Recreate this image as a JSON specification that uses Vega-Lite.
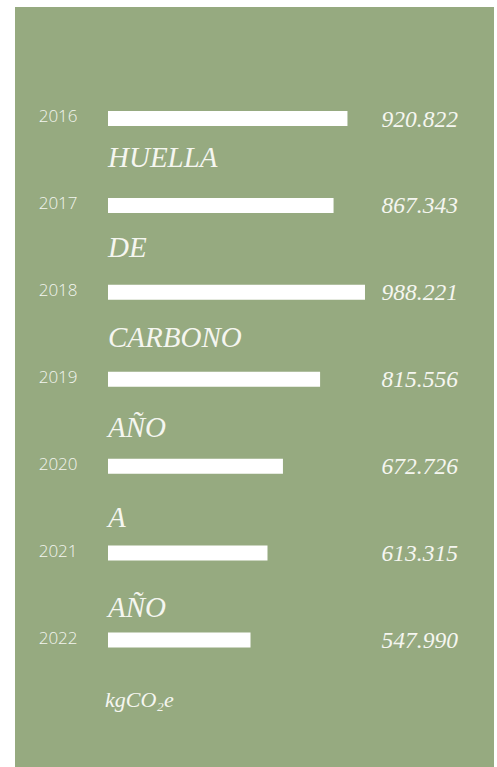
{
  "$schema": "https://vega.github.io/schema/vega-lite/v6.json",
  "width": 479,
  "height": 760,
  "autosize": {"type": "none"},
  "padding": {"left": 15, "top": 7, "right": 3, "bottom": 0},
  "background": "#ffffff",
  "config": {"view": {"fill": "#96aa80", "stroke": null}},
  "datasets": {
    "footprint": [
      {"year": "2016", "value": 920.822},
      {"year": "2017", "value": 867.343},
      {"year": "2018", "value": 988.221},
      {"year": "2019", "value": 815.556},
      {"year": "2020", "value": 672.726},
      {"year": "2021", "value": 613.315},
      {"year": "2022", "value": 547.990}
    ],
    "words": [
      {"line": 1, "word": "HUELLA", "kind": "word"},
      {"line": 2, "word": "DE", "kind": "word"},
      {"line": 3, "word": "CARBONO", "kind": "word"},
      {"line": 4, "word": "AÑO", "kind": "word"},
      {"line": 5, "word": "A", "kind": "word"},
      {"line": 6, "word": "AÑO", "kind": "word"},
      {"line": 7, "word": "kgCO₂e", "kind": "unit"}
    ]
  },
  "layer": [
    {
      "data": {"name": "footprint"},
      "layer": [
        {
          "mark": {"type": "bar", "size": 15, "color": "#ffffff"},
          "encoding": {
            "y": {
              "field": "year", "type": "ordinal",
              "scale": {"type": "point", "range": [111.5, 633], "padding": 0},
              "axis": {
                "orient": "left", "domain": false, "ticks": false, "grid": false, "title": null,
                "labelPadding": 0, "offset": -62,
                "labelFont": "Open Sans", "labelFontWeight": 300, "labelFontSize": 17,
                "labelColor": "#f3f5ef", "labelAlign": "right", "labelBaseline": "middle", "labelOffset": -2
              }
            },
            "x": {
              "field": "value", "type": "quantitative",
              "scale": {"domain": [-357.6, 1484.3], "nice": false, "zero": false},
              "axis": null
            },
            "x2": {"datum": 0}
          }
        },
        {
          "mark": {
            "type": "text", "align": "left", "baseline": "alphabetic", "dy": 8,
            "font": "Liberation Serif", "fontStyle": "italic", "fontSize": 23.5, "color": "#f5f6f0"
          },
          "encoding": {
            "y": {"field": "year", "type": "ordinal"},
            "x": {"datum": 1052},
            "text": {"field": "value", "type": "quantitative", "format": ".3f"}
          }
        }
      ]
    },
    {
      "data": {"name": "words"},
      "layer": [
        {
          "transform": [{"filter": "datum.kind === 'word'"}],
          "mark": {
            "type": "text", "align": "left", "baseline": "alphabetic",
            "font": "Liberation Serif", "fontStyle": "italic", "fontSize": 29, "color": "#f5f6f0"
          },
          "encoding": {
            "y": {"field": "line", "type": "quantitative", "scale": {"domain": [1, 7], "range": [159.7, 700], "nice": false, "zero": false}, "axis": null},
            "x": {"datum": 0},
            "text": {"field": "word"}
          }
        },
        {
          "transform": [{"filter": "datum.kind === 'unit'"}],
          "mark": {
            "type": "text", "align": "left", "baseline": "alphabetic", "dx": -3,
            "font": "Liberation Serif", "fontStyle": "italic", "fontSize": 22, "color": "#f5f6f0"
          },
          "encoding": {
            "y": {"field": "line", "type": "quantitative"},
            "x": {"datum": 0},
            "text": {"field": "word"}
          }
        }
      ]
    }
  ],
  "resolve": {"scale": {"y": "independent"}}
}
